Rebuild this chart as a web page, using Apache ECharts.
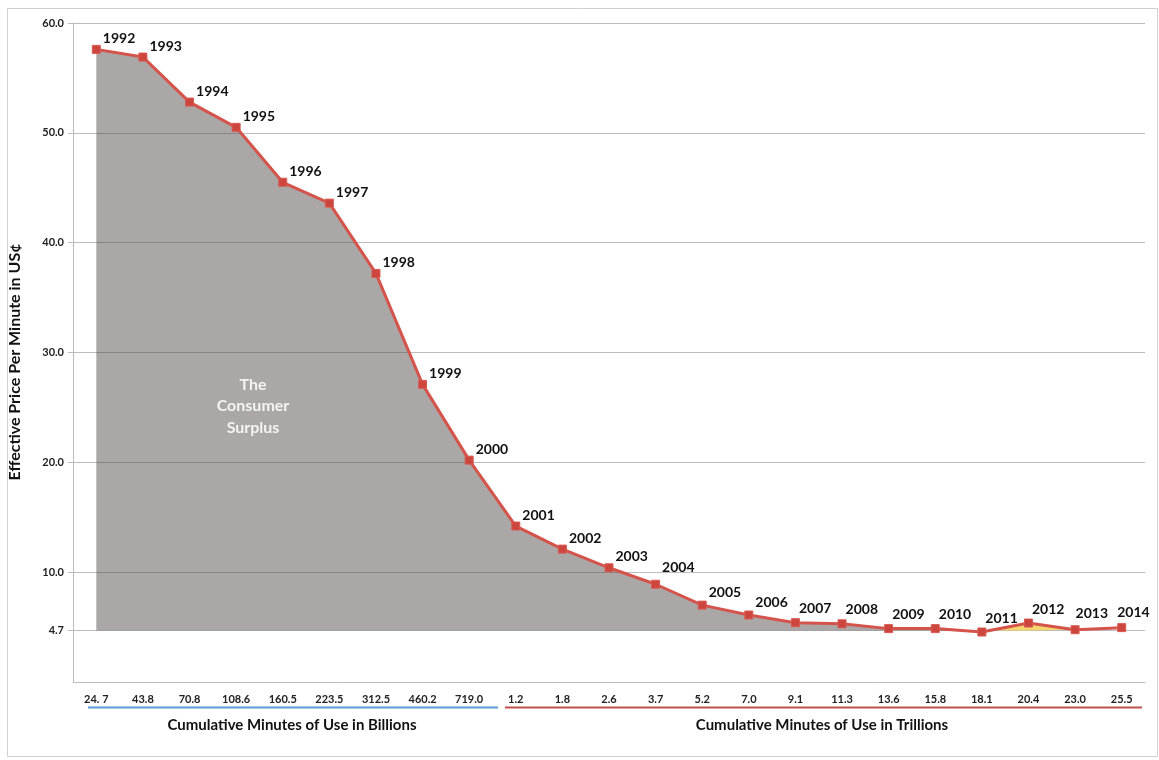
<!DOCTYPE html>
<html>
<head>
<meta charset="utf-8">
<script src="https://cdn.jsdelivr.net/npm/echarts@6/dist/echarts.min.js"></script>
<style>
html,body{margin:0;padding:0;background:#fff;}
#chart{width:1159px;height:760px;}
</style>
</head>
<body>
<div id="chart"></div>
<script>
// ---- data ----
const years = ['1992','1993','1994','1995','1996','1997','1998','1999','2000','2001','2002','2003','2004','2005','2006','2007','2008','2009','2010','2011','2012','2013','2014'];
const price = [57.6,56.9,52.8,50.5,45.5,43.6,37.2,27.1,20.2,14.2,12.1,10.4,8.9,7.0,6.1,5.4,5.3,4.86,4.86,4.55,5.37,4.76,4.95];
const minuteLabels = ['24. 7','43.8','70.8','108.6','160.5','223.5','312.5','460.2','719.0','1.2','1.8','2.6','3.7','5.2','7.0','9.1','11.3','13.6','15.8','18.1','20.4','23.0','25.5'];
const yTicks = [4.7,10,20,30,40,50,60];
const surplusBase = 4.7;
const grayEnd = 19;   // surplus shaded grey through 2011
const yellowStart = 19, yellowEnd = 21; // highlighted 2011-2013

const FONT = 'Lato, "Open Sans", sans-serif';

const grayData = price.map((v,i) => i <= grayEnd ? v : '-');
const yellowData = price.map((v,i) => (i >= yellowStart && i <= yellowEnd) ? v : '-');

function labelFor(i){
  if (i === 22) return {offset:[-11,-15]};
  if (i === 21) return {offset:[-6,-16]};
  if (i >= 15) return {offset:[-3,-14]};
  if (i === 12) return {offset:[0,-17]};
  if (i >= 13) return {offset:[0,-13]};
  return undefined;
}
const lineData = price.map((v,i) => {
  const l = labelFor(i);
  return l ? {value:v, label:l} : v;
});

const chart = echarts.init(document.getElementById('chart'), null, {renderer:'canvas'});
chart.setOption({
  backgroundColor:'#fff',
  animation:false,
  grid:{left:73,right:14,top:23,bottom:78,containLabel:false},
  xAxis:{
    type:'category',
    data:years,
    boundaryGap:true,
    axisLine:{show:true,lineStyle:{color:'#bdbdbd',width:1}},
    axisTick:{show:false},
    splitLine:{show:false},
    axisLabel:{
      interval:0,margin:12,
      formatter:(v,i)=>minuteLabels[i],
      fontFamily:FONT,fontWeight:'bold',fontSize:11,color:'#222'
    }
  },
  yAxis:{
    type:'value',min:0,max:60,
    axisLine:{show:true,lineStyle:{color:'#bdbdbd',width:1}},
    axisTick:{show:true,customValues:yTicks,length:5,lineStyle:{color:'#bdbdbd'}},
    axisLabel:{
      customValues:yTicks,margin:9,
      formatter:v=>Number(v).toFixed(1),
      fontFamily:FONT,fontWeight:'bold',fontSize:11,color:'#222'
    },
    splitLine:{show:true,lineStyle:{color:'#bcbcbc',width:1}}
  },
  series:[
    {
      name:'surplus',type:'line',data:grayData,symbol:'none',
      lineStyle:{width:0},
      areaStyle:{origin:surplusBase,color:'rgba(84,74,74,0.485)',opacity:1},
      z:1,silent:true
    },
    {
      name:'rise',type:'line',data:yellowData,symbol:'none',
      lineStyle:{width:0},
      areaStyle:{origin:surplusBase,color:'#f5d25f',opacity:0.9},
      z:1,silent:true
    },
    {
      name:'price',type:'line',data:lineData,
      symbol:'rect',symbolSize:8,
      itemStyle:{color:'#cc463e',borderColor:'#d85a52',borderWidth:1},
      lineStyle:{color:'#d4544c',width:3},
      z:3,
      label:{
        show:true,position:'right',distance:2,offset:[0,-11],
        formatter:'{b}',
        fontFamily:FONT,fontWeight:'bold',fontSize:14,color:'#111'
      }
    }
  ],
  graphic:[
    {type:'rect',shape:{x:7.5,y:8.5,width:1150,height:748},style:{fill:'none',stroke:'#cfcfcf',lineWidth:1},silent:true},
    {type:'text',x:15,y:362,rotation:Math.PI/2,
      style:{text:'Effective Price Per Minute in US¢',fontFamily:FONT,fontWeight:'bold',fontSize:16,fill:'#111',align:'center',verticalAlign:'middle'}},
    {type:'text',x:253,y:406,
      style:{text:'The\nConsumer\nSurplus',fontFamily:FONT,fontWeight:'bold',fontSize:16,lineHeight:21.5,fill:'#f3f3f3',align:'center',verticalAlign:'middle'},z:10},
    {type:'line',shape:{x1:88,y1:707.5,x2:498,y2:707.5},style:{stroke:'#5b9bd5',lineWidth:2}},
    {type:'line',shape:{x1:505,y1:707.5,x2:1142,y2:707.5},style:{stroke:'#c0504d',lineWidth:2}},
    {type:'text',x:292,y:725,
      style:{text:'Cumulative Minutes of Use in Billions',fontFamily:FONT,fontWeight:'bold',fontSize:15,fill:'#111',align:'center',verticalAlign:'middle'}},
    {type:'text',x:822,y:725,
      style:{text:'Cumulative Minutes of Use in Trillions',fontFamily:FONT,fontWeight:'bold',fontSize:15,fill:'#111',align:'center',verticalAlign:'middle'}}
  ]
});
</script>
</body>
</html>
